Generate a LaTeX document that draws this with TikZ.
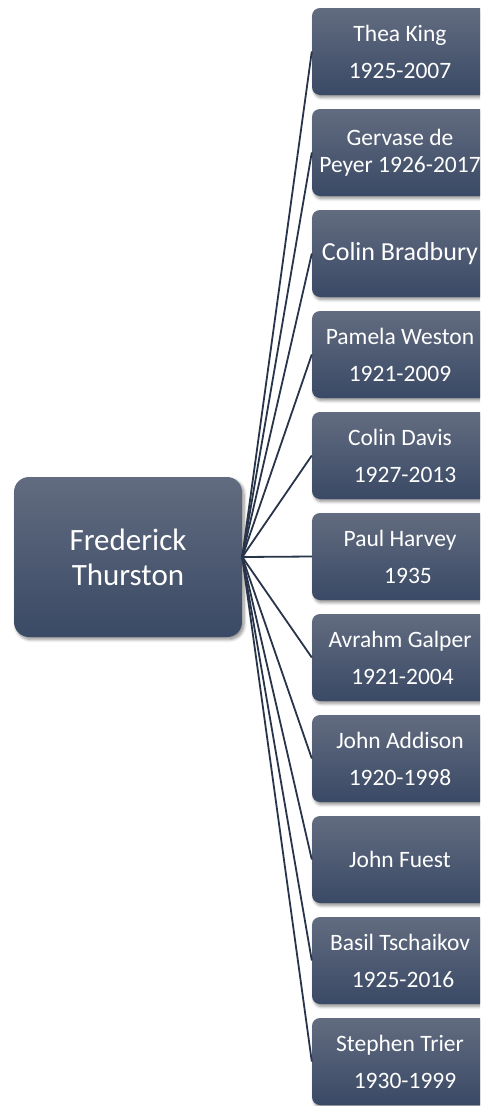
\documentclass[tikz,border=0pt]{standalone}
\usepackage{fontspec}
\setmainfont{Carlito}
\usetikzlibrary{shadows.blur}
\definecolor{boxtop}{RGB}{98,108,128}
\definecolor{boxbot}{RGB}{58,73,101}
\definecolor{linkc}{RGB}{40,52,74}
\tikzset{
  box/.style={draw=none, top color=boxtop, bottom color=boxbot, text=white,
    align=center, inner sep=0pt,
    blur shadow={shadow xshift=2pt, shadow yshift=-2.5pt, shadow blur steps=6, shadow blur radius=3pt, shadow opacity=45}},
  rootbox/.style={box, minimum width=228pt, minimum height=160pt, rounded corners=15pt,
    font=\fontsize{31}{35}\selectfont},
  kid/.style={box, minimum width=176pt, minimum height=87pt, rounded corners=8pt,
    font=\fontsize{23.5}{37}\selectfont},
  link/.style={draw=linkc, line width=1.8pt}
}
\begin{document}
\begin{tikzpicture}[x=1pt,y=-1pt]
\useasboundingbox (0,0) rectangle (480,1106);
\clip (0,0) rectangle (480,1106);
\node[rootbox] (root) at (128,557) {Frederick\\Thurston};
\node[kid] (c0) at (400,51.5) {Thea King\\1925-2007};
\node[kid, font=\fontsize{23.5}{27}\selectfont] (c1) at (400,152.5) {Gervase de\\Peyer 1926-2017};
\node[kid, font=\fontsize{26}{30}\selectfont] (c2) at (400,253.5) {Colin Bradbury};
\node[kid] (c3) at (400,354.5) {Pamela Weston\\1921-2009};
\node[kid] (c4) at (400,455.5) {Colin Davis\\\hspace{10pt}1927-2013};
\node[kid] (c5) at (400,556.5) {Paul Harvey\\\hspace{16pt}1935};
\node[kid] (c6) at (400,657.5) {Avrahm Galper\\\hspace{5pt}1921-2004};
\node[kid] (c7) at (400,758.5) {John Addison\\1920-1998};
\node[kid] (c8) at (400,859.5) {John Fuest};
\node[kid] (c9) at (400,960.5) {Basil Tschaikov\\\hspace{6pt}1925-2016};
\node[kid] (c10) at (400,1061.5) {Stephen Trier\\\hspace{10pt}1930-1999};
\foreach \k in {0,...,10} {\draw[link] (root.east) -- (c\k.west);}
\end{tikzpicture}
\end{document}
